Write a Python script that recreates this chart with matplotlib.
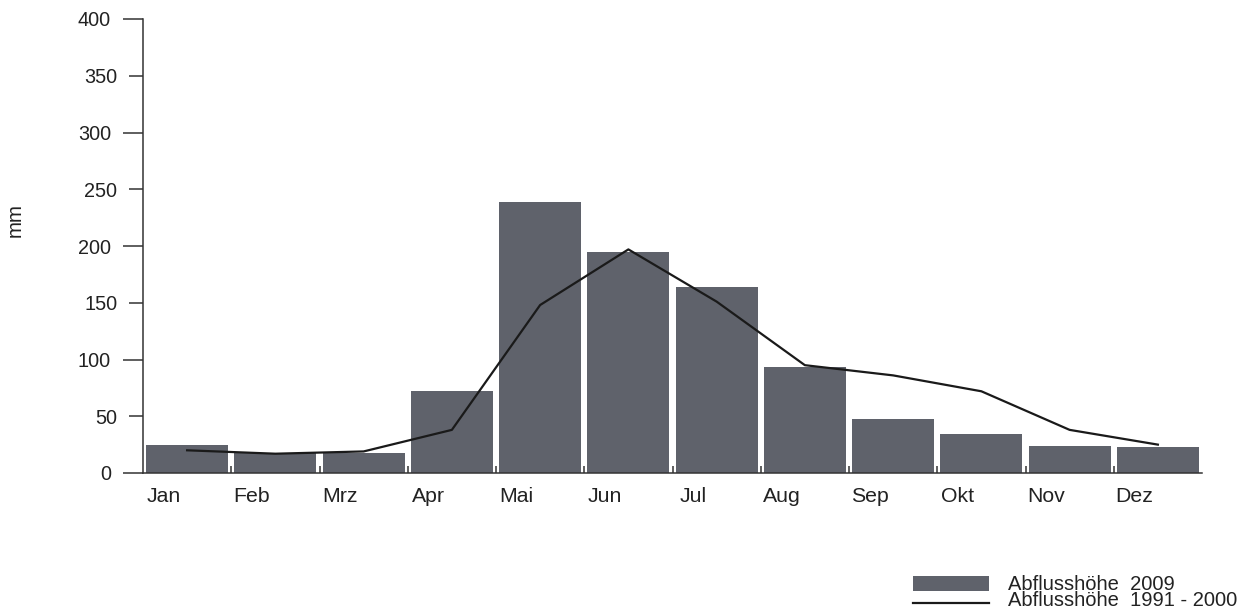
import matplotlib
matplotlib.use("Agg")
import matplotlib.pyplot as plt
import numpy as np
from matplotlib.patches import Rectangle
from matplotlib.lines import Line2D

months = ["Jan", "Feb", "Mrz", "Apr", "Mai", "Jun", "Jul", "Aug", "Sep", "Okt", "Nov", "Dez"]
runoff_2009 = [25, 18, 18, 72, 239, 195, 164, 93, 48, 34, 24, 23]
runoff_1991_2000 = [20, 17, 19, 38, 148, 197, 151, 95, 86, 72, 38, 25]
yticks_major = [0, 100, 200, 300, 400]
yticks_minor = [50, 150, 250, 350]
legend_labels = ["Abflusshöhe  2009", "Abflusshöhe  1991 - 2000"]

plt.rcParams["font.family"] = ["Liberation Sans", "DejaVu Sans"]
text_col = "#222222"
axis_col = "#333333"
bar_col = "#5f626b"
line_col = "#1a1a1a"

W, H = 1250, 614
fig = plt.figure(figsize=(W / 100, H / 100), dpi=100)
ax = fig.add_axes([143 / W, 1 - 473 / H, (1202 - 143) / W, (473 - 19) / H])

x = np.arange(len(months))
ax.bar(x, runoff_2009, width=0.93, color=bar_col, zorder=1)
ax.plot(x, runoff_1991_2000, color=line_col, lw=1.6, zorder=2)

ax.set_xlim(-0.5, 11.5)
ax.set_ylim(0, 400)

for s in ["top", "right"]:
    ax.spines[s].set_visible(False)
for s in ["left", "bottom"]:
    ax.spines[s].set_color(axis_col)
    ax.spines[s].set_linewidth(1.1)

# y axis: long ticks at hundreds, shorter at fifties, all labelled
ax.set_yticks(yticks_major)
ax.set_yticks(yticks_minor, minor=True)
ax.set_yticklabels([str(v) for v in yticks_major])
ax.set_yticklabels([str(v) for v in yticks_minor], minor=True)
ax.tick_params(axis="y", which="major", length=14.5, width=1.1, color=axis_col,
               pad=8.5, labelsize=14.3, labelcolor=text_col)
ax.tick_params(axis="y", which="minor", length=10, width=1.1, color=axis_col,
               pad=8.5, labelsize=14.3, labelcolor=text_col)

# x axis: labels sit left of the bar centre, small inward ticks between bars
ax.set_xticks(x - 0.265)
ax.set_xticklabels(months)
ax.set_xticks(x[:-1] + 0.5, minor=True)
ax.tick_params(axis="x", which="major", length=0, pad=10, labelsize=15.3, labelcolor=text_col)
ax.tick_params(axis="x", which="minor", direction="in", length=5, width=1.1, color=axis_col)

fig.text(15 / W, 1 - 220 / H, "mm", rotation=90, ha="center", va="center",
         fontsize=14.8, color=text_col)

# legend drawn by hand to get the tight two-line layout
fig.add_artist(Rectangle((913 / W, 1 - 591 / H), 76 / W, 15 / H,
                         transform=fig.transFigure, facecolor=bar_col, edgecolor="none"))
fig.add_artist(Line2D([913 / W, 989 / W], [1 - 603 / H, 1 - 603 / H],
                      transform=fig.transFigure, color=line_col, lw=1.6))
# va="baseline" anchors the last line of a multi-line text
fig.text(1008 / W, 1 - 606 / H, "\n".join(legend_labels), ha="left", va="baseline",
         fontsize=14.5, linespacing=0.8, color=text_col)

fig.savefig("out.png", dpi=100)
